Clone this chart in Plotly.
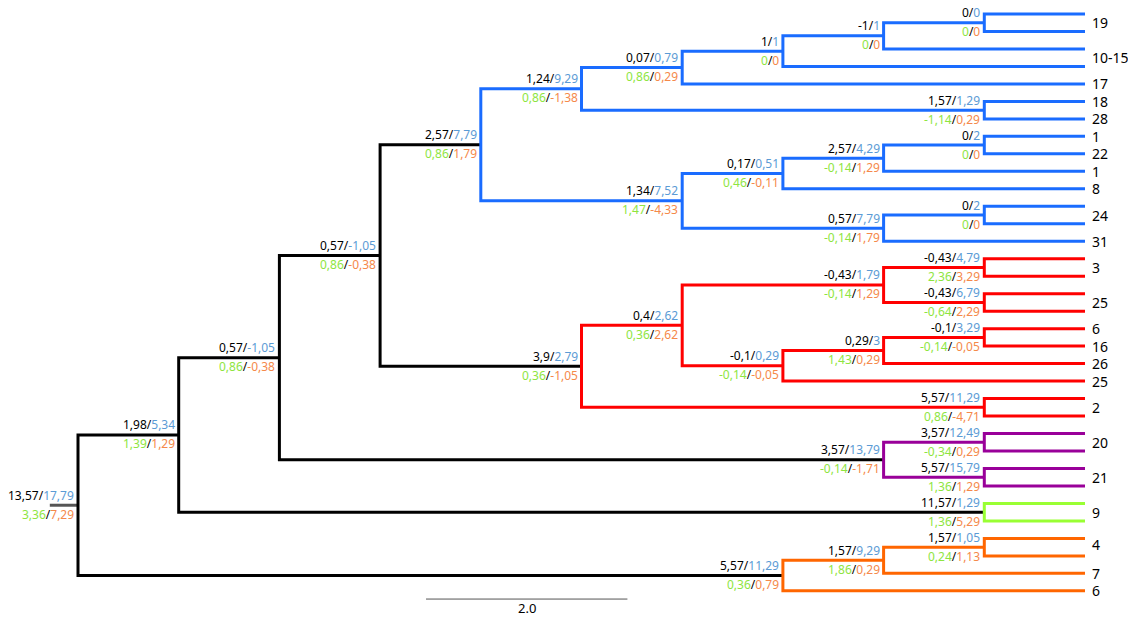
import plotly.graph_objects as go

# ---------------- data ----------------
node_ids = ["root", "A", "B", "C", "D", "E", "E1", "E11", "E111", "E1111", "E2",
            "F", "F1", "F11", "F111", "F2", "F21",
            "R", "R1", "R11", "R111", "R112", "R12", "R121", "R1211", "R2",
            "P", "P1", "P2", "G", "O", "O1", "O11"]
node_parent = [None, "root", "A", "B", "C", "D", "E", "E1", "E11", "E111", "E",
               "D", "F", "F1", "F11", "F", "F2",
               "C", "R", "R1", "R11", "R11", "R1", "R12", "R121", "R",
               "B", "P", "P", "A", "root", "O", "O1"]
node_depth = [0, 1, 2, 3, 4, 5, 6, 7, 8, 9, 9,
              6, 7, 8, 9, 8, 9,
              5, 6, 8, 9, 9, 7, 8, 9, 9,
              8, 9, 9, 9, 7, 8, 9]
node_clade = ["base", "base", "base", "base", "blue", "blue", "blue", "blue", "blue", "blue", "blue",
              "blue", "blue", "blue", "blue", "blue", "blue",
              "red", "red", "red", "red", "red", "red", "red", "red", "red",
              "purple", "purple", "purple", "green", "orange", "orange", "orange"]
lab_black = ["13,57", "1,98", "0,57", "0,57", "2,57", "1,24", "0,07", "1", "-1", "0", "1,57",
             "1,34", "0,17", "2,57", "0", "0,57", "0",
             "3,9", "0,4", "-0,43", "-0,43", "-0,43", "-0,1", "0,29", "-0,1", "5,57",
             "3,57", "3,57", "5,57", "11,57", "5,57", "1,57", "1,57"]
lab_blue = ["17,79", "5,34", "-1,05", "-1,05", "7,79", "9,29", "0,79", "1", "1", "0", "1,29",
            "7,52", "0,51", "4,29", "2", "7,79", "2",
            "2,79", "2,62", "1,79", "4,79", "6,79", "0,29", "3", "3,29", "11,29",
            "13,79", "12,49", "15,79", "1,29", "11,29", "9,29", "1,05"]
lab_green = ["3,36", "1,39", "0,86", "0,86", "0,86", "0,86", "0,86", "0", "0", "0", "-1,14",
             "1,47", "0,46", "-0,14", "0", "-0,14", "0",
             "0,36", "0,36", "-0,14", "2,36", "-0,64", "-0,14", "1,43", "-0,14", "0,86",
             "-0,14", "-0,34", "1,36", "1,36", "0,36", "1,86", "0,24"]
lab_orange = ["7,29", "1,29", "-0,38", "-0,38", "1,79", "-1,38", "0,29", "0", "0", "0", "0,29",
              "-4,33", "-0,11", "1,29", "0", "1,79", "0",
              "-1,05", "2,62", "1,29", "3,29", "2,29", "-0,05", "0,29", "-0,05", "-4,71",
              "-1,71", "0,29", "1,29", "5,29", "0,79", "0,29", "1,13"]

# leaves, top to bottom: the internal node each tip hangs from
leaf_parent = ["E1111", "E1111", "E111", "E11", "E1", "E2", "E2",
               "F111", "F111", "F11", "F1", "F21", "F21", "F2",
               "R111", "R111", "R112", "R112", "R1211", "R1211", "R121", "R12", "R2", "R2",
               "P1", "P1", "P2", "P2", "G", "G", "O11", "O11", "O1", "O"]
leaf_depth = 10

tip_labels = ["19", "10-15", "17", "18", "28", "1", "22", "1", "8", "24", "31",
              "3", "25", "6", "16", "26", "25", "2", "20", "21", "9", "4", "7", "6"]
tip_slot = [0.5, 2.5, 4, 5, 6, 7, 8, 9, 10, 11.5, 13,
            14.5, 16.5, 18, 19, 20, 21, 22.5, 24.5, 26.5, 28.5, 30.35, 32, 33]

root_stub = 0.28
scale_len = 2.0
scale_label = "2.0"

# ---------------- styles ----------------
clade_colors = {"base": "#000000", "blue": "#1a6cff", "red": "#ff0000",
                "purple": "#990099", "green": "#99ff33", "orange": "#ff6600"}
C_BLUE_T = "#5b9bd5"
C_GREEN_T = "#8ee53f"
C_ORANGE_T = "#f5894a"
FONT = "Noto Sans"

W, H = 1128, 609          # page adds an 8px body margin
X0, PXU = 70, 100.7       # pixel of depth 0, pixels per unit
Y0, PXL = 6, 17.48        # pixel of first leaf, pixels per leaf

# ---------------- layout of tree ----------------
idx = {n: i for i, n in enumerate(node_ids)}
children = {n: [] for n in node_ids}
for n, p in zip(node_ids, node_parent):
    if p is not None:
        children[p].append(("node", n))
for li, p in enumerate(leaf_parent):
    children[p].append(("leaf", li))

ypos = {}


def node_y(n):
    if n in ypos:
        return ypos[n]
    ys = []
    for kind, c in children[n]:
        ys.append(node_y(c) if kind == "node" else float(c))
    ypos[n] = (min(ys) + max(ys)) / 2
    return ypos[n]


for n in node_ids:
    node_y(n)

segs = {k: ([], []) for k in clade_colors}
for n in node_ids:
    xn = node_depth[idx[n]]
    ch = []
    for kind, c in children[n]:
        if kind == "node":
            ch.append((node_y(c), node_depth[idx[c]]))
        else:
            ch.append((float(c), leaf_depth))
    ch.sort()
    (yt, xt), (yb, xb) = ch[0], ch[-1]
    xs, ys = segs[node_clade[idx[n]]]
    xs += [xt, xn, xn, xb, None]
    ys += [yt, yt, yb, yb, None]

fig = go.Figure()
ry = ypos["root"]
fig.add_trace(go.Scatter(x=[-root_stub, 0], y=[ry, ry], mode="lines",
                         line=dict(color="#555555", width=3), hoverinfo="skip"))
for k, (xs, ys) in segs.items():
    fig.add_trace(go.Scatter(x=xs, y=ys, mode="lines",
                             line=dict(color=clade_colors[k], width=3),
                             hoverinfo="skip"))

# scale bar
sb_x0 = 3.456
sb_y = 33.47
fig.add_trace(go.Scatter(x=[sb_x0, sb_x0 + scale_len], y=[sb_y, sb_y], mode="lines",
                         line=dict(color="#555555", width=1), hoverinfo="skip"))

ann = []
for i, n in enumerate(node_ids):
    x = node_depth[i]
    y = ypos[n]
    top = f"{lab_black[i]}/<span style='color:{C_BLUE_T}'>{lab_blue[i]}</span>"
    bot = (f"<span style='color:{C_GREEN_T}'>{lab_green[i]}</span>/"
           f"<span style='color:{C_ORANGE_T}'>{lab_orange[i]}</span>")
    ann.append(dict(x=x, y=y, text=top, xanchor="right", yanchor="middle",
                    xshift=-2, yshift=10, showarrow=False,
                    font=dict(family=FONT, size=12, color="#000000")))
    ann.append(dict(x=x, y=y, text=bot, xanchor="right", yanchor="middle",
                    xshift=-2, yshift=-9, showarrow=False,
                    font=dict(family=FONT, size=12, color="#000000")))

for t, s in zip(tip_labels, tip_slot):
    ann.append(dict(x=leaf_depth, y=s, text=t, xanchor="left", yanchor="middle",
                    xshift=5, showarrow=False,
                    font=dict(family=FONT, size=14, color="#000000")))

ann.append(dict(x=sb_x0 + scale_len / 2, y=sb_y, text=scale_label, xanchor="center",
                yanchor="middle", yshift=-9, showarrow=False,
                font=dict(family=FONT, size=13, color="#000000")))

fig.update_layout(
    width=W, height=H,
    margin=dict(l=0, r=0, t=0, b=0),
    paper_bgcolor="white", plot_bgcolor="white",
    showlegend=False,
    xaxis=dict(visible=False, range=[-X0 / PXU, (W - X0) / PXU]),
    yaxis=dict(visible=False, range=[(H - Y0) / PXL, -Y0 / PXL]),
    annotations=ann,
)

fig.write_html("out.html")
